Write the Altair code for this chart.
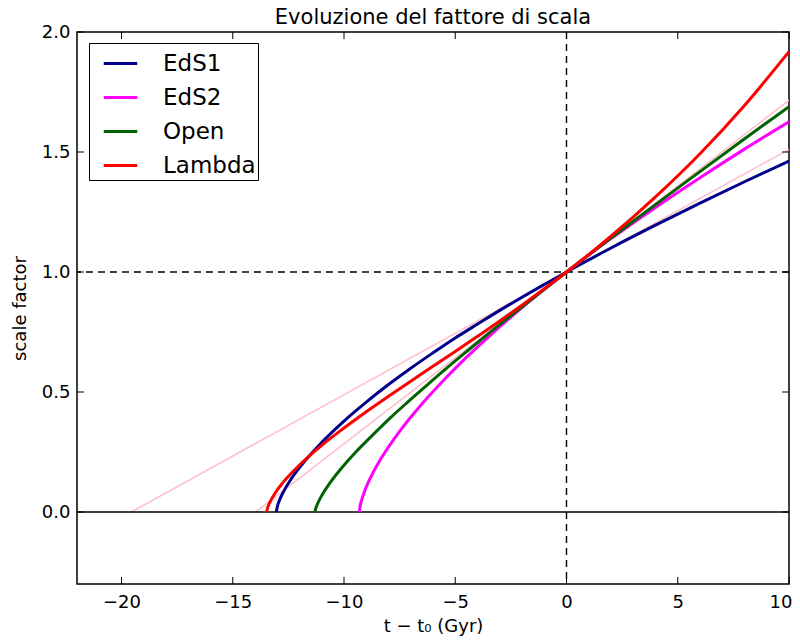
import altair as alt
import pandas as pd

# ---- data ----
series_names = ["EdS1", "EdS2", "Open", "Lambda"]
series_colors = ["#00008B", "#FF00FF", "#006400", "#FF0000"]

eds1_t = [-13.04, -13.0, -12.9, -12.7, -12.4, -12.0, -11.0, -10.0, -9.0, -8.0, -7.0, -6.0,
          -5.0, -4.0, -3.0, -2.0, -1.0, 0.0, 2.0, 4.0, 6.0, 8.0, 10.0]
eds1_a = [0.0, 0.021, 0.049, 0.088, 0.134, 0.185, 0.290, 0.379, 0.458, 0.531, 0.599, 0.663,
          0.725, 0.783, 0.840, 0.895, 0.948, 1.0, 1.100, 1.195, 1.287, 1.376, 1.462]

eds2_t = [-9.31, -9.28, -9.2, -9.0, -8.7, -8.3, -7.5, -6.5, -5.5, -4.5, -3.5, -2.5, -1.5,
          -0.5, 0.0, 2.0, 4.0, 6.0, 8.0, 10.0]
eds2_a = [0.0, 0.022, 0.052, 0.104, 0.163, 0.228, 0.336, 0.450, 0.551, 0.644, 0.730, 0.812,
          0.890, 0.964, 1.0, 1.139, 1.269, 1.393, 1.512, 1.626]

open_t = [-11.30, -11.295, -11.284, -11.22, -10.98, -10.67, -10.19, -9.50, -8.52, -7.92,
          -7.21, -6.40, -5.48, -4.42, -3.22, -1.86, 0.0, 1.40, 3.35, 5.54, 7.99, 9.33, 10.0]
open_a = [0.0, 0.004, 0.010, 0.027, 0.072, 0.116, 0.174, 0.247, 0.338, 0.392, 0.452, 0.518,
          0.592, 0.674, 0.765, 0.865, 1.0, 1.100, 1.236, 1.387, 1.554, 1.644, 1.689]

lambda_t = [-13.47, -13.45, -13.4, -13.3, -13.1, -12.8, -12.4, -12.0, -11.0, -10.0, -9.0,
            -8.0, -7.0, -6.0, -5.0, -4.0, -3.0, -2.0, -1.0, 0.0, 2.0, 4.0, 6.0, 8.0, 10.0]
lambda_a = [0.0, 0.011, 0.026, 0.046, 0.078, 0.116, 0.158, 0.196, 0.278, 0.350, 0.418,
            0.482, 0.545, 0.607, 0.669, 0.732, 0.796, 0.862, 0.930, 1.0, 1.149, 1.313,
            1.493, 1.694, 1.918]

# tangent (linear Hubble) lines, drawn in pink
tan1_t = [-19.56, 10.0]
tan1_a = [0.0, 1.511]
tan2_t = [-13.97, 10.0]
tan2_a = [0.0, 1.716]

x_ticks = [-20, -15, -10, -5, 0, 5, 10]
y_ticks = [0.0, 0.5, 1.0, 1.5, 2.0]
x_domain = [-22, 10]
y_domain = [-0.3, 2.0]

# ---- tables ----
rows = []
for name, ts, aa in zip(series_names, [eds1_t, eds2_t, open_t, lambda_t],
                        [eds1_a, eds2_a, open_a, lambda_a]):
    for i, (t, a) in enumerate(zip(ts, aa)):
        rows.append({"series": name, "t": t, "a": a, "i": i})
curves = pd.DataFrame(rows)

trows = []
for k, (ts, aa) in enumerate([(tan1_t, tan1_a), (tan2_t, tan2_a)]):
    for t, a in zip(ts, aa):
        trows.append({"line": k, "t": t, "a": a})
tangents = pd.DataFrame(trows)

W, H = 712, 552
TL = 7  # inward tick length

xs = alt.Scale(domain=x_domain, nice=False, zero=False)
ys = alt.Scale(domain=y_domain, nice=False, zero=False)

x_axis = alt.Axis(values=x_ticks, ticks=False, domain=False, grid=False, labelPadding=9,
                  labelFontSize=18, title="t − t₀ (Gyr)", titleFontSize=18,
                  titlePadding=6, titleFontWeight="normal", labelFlush=True,
                  labelFlushOffset=3)
y_axis = alt.Axis(values=y_ticks, ticks=False, domain=False, grid=False, labelPadding=7,
                  labelFontSize=18, format=".1f", title="scale factor", titleFontSize=18,
                  titlePadding=12, titleFontWeight="normal", labelFlush=False)

base_x = alt.X("t:Q", scale=xs, axis=x_axis)
base_y = alt.Y("a:Q", scale=ys, axis=y_axis)

tan_layer = alt.Chart(tangents).mark_line(color="#FFC0CB", strokeWidth=1.6, clip=True).encode(
    x=base_x, y=base_y, detail="line:N"
)

curve_layer = alt.Chart(curves).mark_line(strokeWidth=3, interpolate="monotone", clip=True).encode(
    x=base_x,
    y=base_y,
    color=alt.Color("series:N",
                    scale=alt.Scale(domain=series_names, range=series_colors),
                    sort=series_names,
                    legend=alt.Legend(title=None, orient="none", legendX=12, legendY=11,
                                      symbolType="stroke", symbolStrokeWidth=3,
                                      symbolSize=1122, symbolOffset=11,
                                      labelFontSize=23, labelOffset=24,
                                      strokeColor="black", fillColor="white", padding=2,
                                      cornerRadius=0, rowPadding=3)),
    order="i:Q",
)

vline = alt.Chart(pd.DataFrame({"t": [0.0]})).mark_rule(
    color="black", strokeDash=[7, 5], strokeWidth=1.4).encode(x=alt.X("t:Q", scale=xs))
hline = alt.Chart(pd.DataFrame({"a": [1.0]})).mark_rule(
    color="black", strokeDash=[7, 5], strokeWidth=1.4).encode(y=alt.Y("a:Q", scale=ys))
zline = alt.Chart(pd.DataFrame({"a": [0.0]})).mark_rule(
    color="black", strokeWidth=1.5).encode(y=alt.Y("a:Q", scale=ys))

xt = pd.DataFrame({"t": x_ticks})
yt = pd.DataFrame({"a": y_ticks})
tick_style = dict(color="black", strokeWidth=1)
xt_bottom = alt.Chart(xt).mark_rule(**tick_style).encode(
    x=alt.X("t:Q", scale=xs), y=alt.value(H - TL), y2=alt.value(H))
xt_top = alt.Chart(xt).mark_rule(**tick_style).encode(
    x=alt.X("t:Q", scale=xs), y=alt.value(0), y2=alt.value(TL))
yt_left = alt.Chart(yt).mark_rule(**tick_style).encode(
    y=alt.Y("a:Q", scale=ys), x=alt.value(0), x2=alt.value(TL))
yt_right = alt.Chart(yt).mark_rule(**tick_style).encode(
    y=alt.Y("a:Q", scale=ys), x=alt.value(W - TL), x2=alt.value(W))

chart = alt.layer(
    tan_layer, vline, hline, zline, curve_layer,
    xt_bottom, xt_top, yt_left, yt_right
).properties(
    width=W, height=H,
    title=alt.TitleParams("Evoluzione del fattore di scala", fontSize=21,
                          fontWeight="normal", offset=-5, anchor="middle",
                          color="black"),
    autosize=alt.AutoSizeParams(type="none"),
    padding={"left": 69, "top": 24, "right": 3, "bottom": 52},
).configure(
    font="DejaVu Sans",
).configure_view(
    stroke="black", strokeWidth=1.5
).configure_axis(
    labelColor="black", titleColor="black", labelFont="DejaVu Sans", titleFont="DejaVu Sans"
).configure_legend(
    labelFont="DejaVu Sans", labelColor="black"
)

chart.save("out.html", embed_options={"renderer": "svg", "actions": False})
